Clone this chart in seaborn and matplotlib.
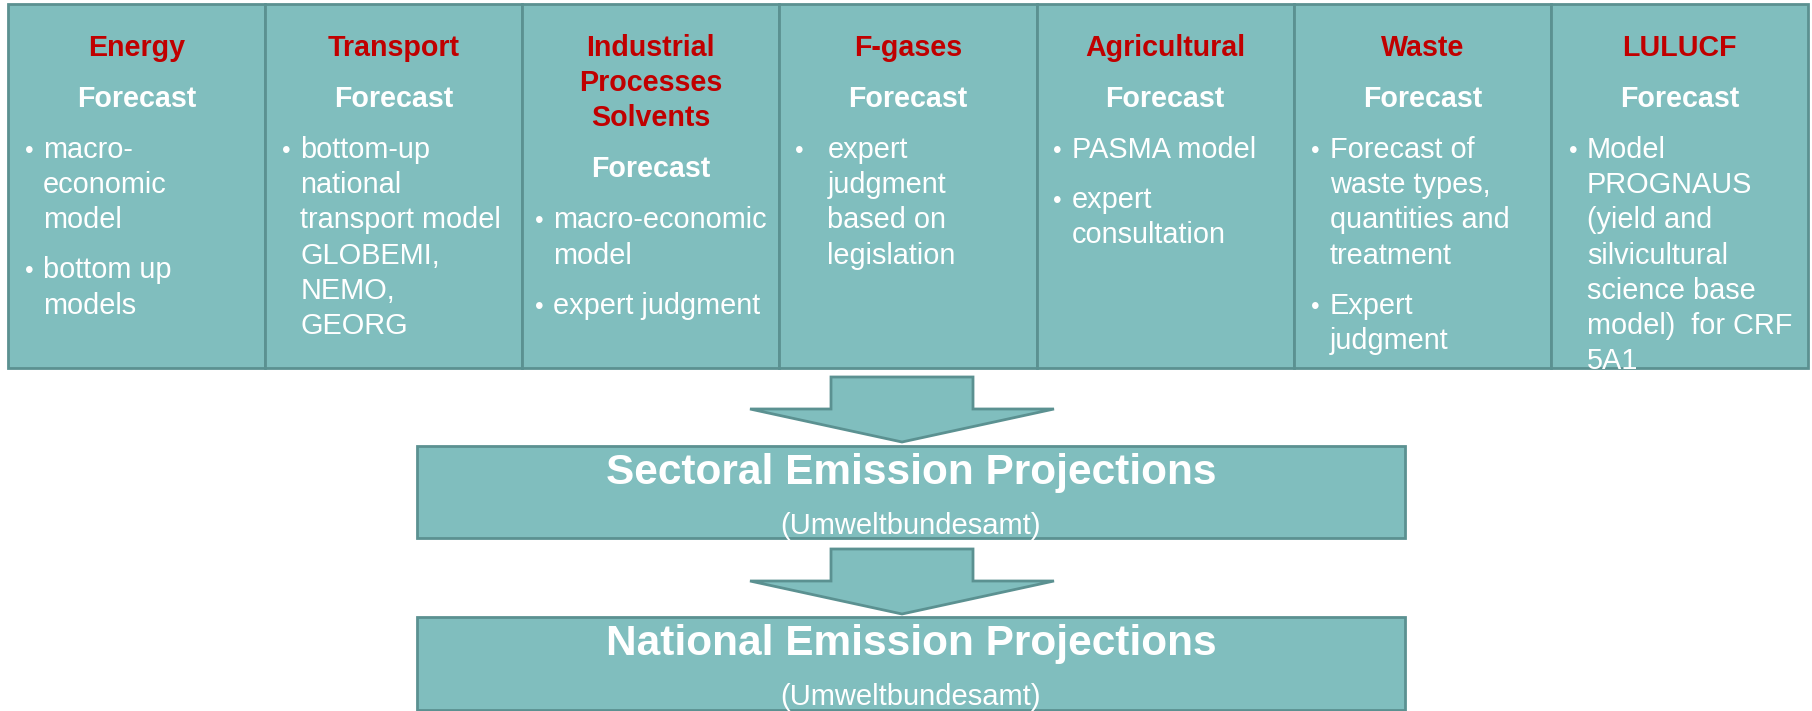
import matplotlib
matplotlib.use("Agg")
import matplotlib.pyplot as plt
import seaborn as sns
from matplotlib.patches import Rectangle, Polygon

# ---------------- data (texts) ----------------
sector_titles = [
    ["Energy"],
    ["Transport"],
    ["Industrial", "Processes", "Solvents"],
    ["F-gases"],
    ["Agricultural"],
    ["Waste"],
    ["LULUCF"],
]
forecast_label = "Forecast"
sector_bullets = [
    [["macro-", "economic", "model"], ["bottom up", "models"]],
    [["bottom-up", "national", "transport model", "GLOBEMI,", "NEMO,", "GEORG"]],
    [["macro-economic", "model"], ["expert judgment"]],
    [["expert", "judgment", "based on", "legislation"]],
    [["PASMA model"], ["expert", "consultation"]],
    [["Forecast of", "waste types,", "quantities and", "treatment"], ["Expert", "judgment"]],
    [["Model", "PROGNAUS", "(yield and", "silvicultural", "science base",
      "model)  for CRF", "5A1"]],
]
stage_titles = ["Sectoral Emission Projections", "National Emission Projections"]
stage_subtitles = ["(Umweltbundesamt)", "(Umweltbundesamt)"]

# ---------------- style ----------------
FILL = "#80bebe"
EDGE = "#5b9191"
RED = "#c00000"
WHITE = "#ffffff"

sns.set_theme(style="white")
plt.rcParams["font.family"] = ["Liberation Sans", "DejaVu Sans"]

W, H = 1812, 711
fig = plt.figure(figsize=(W / 100, H / 100), dpi=100)
ax = fig.add_axes([0, 0, 1, 1])
ax.set_xlim(0, W)
ax.set_ylim(H, 0)
ax.axis("off")

# layout
row_left, row_right = 8, 1808
row_top, row_bottom = 3.5, 368
ncol = len(sector_titles)
col_w = (row_right - row_left) / ncol
title_base = 56
line_sp = 35.2
sect_gap = 51
bullet_gap = 50
bullet_dx = [17, 17, 13, 16, 16, 17, 18]
text_dx = [35, 35, 31, 48, 35, 36, 36]

FS_HEAD = 20.6
FS_BODY = 20.8

for i in range(ncol):
    x0 = row_left + i * col_w
    ax.add_patch(Rectangle((x0, row_top), col_w, row_bottom - row_top,
                           facecolor=FILL, edgecolor=EDGE, linewidth=2.0, zorder=1))
    cx = x0 + col_w / 2
    y = title_base
    for j, t in enumerate(sector_titles[i]):
        if j > 0:
            y += line_sp
        ax.text(cx, y, t, color=RED, fontsize=FS_HEAD, fontweight="bold",
                ha="center", va="baseline", zorder=5)
    y += sect_gap
    ax.text(cx, y, forecast_label, color=WHITE, fontsize=FS_HEAD, fontweight="bold",
            ha="center", va="baseline", zorder=5)
    y += sect_gap
    for b, lines in enumerate(sector_bullets[i]):
        if b > 0:
            y += bullet_gap
        ax.text(x0 + bullet_dx[i], y, "\u2022", color=WHITE, fontsize=FS_BODY * 0.85,
                ha="left", va="baseline", zorder=5)
        for k, ln in enumerate(lines):
            if k > 0:
                y += line_sp
            ax.text(x0 + text_dx[i], y, ln, color=WHITE, fontsize=FS_BODY,
                    ha="left", va="baseline", zorder=5)

# arrows and stage boxes
box_left, box_right = 417, 1405
stage_tops = [446, 617]
stage_bottoms = [538, 710]
arrow_tops = [377, 549]
shaft_l, shaft_r = 831, 973
head_l, head_r = 750, 1054
tip_x = 902
head_depth = 32
head_len = 33

for s in range(2):
    at = arrow_tops[s]
    hb = at + head_depth
    tip = hb + head_len
    pts = [(shaft_l, at), (shaft_r, at), (shaft_r, hb), (head_r, hb),
           (tip_x, tip), (head_l, hb), (shaft_l, hb)]
    ax.add_patch(Polygon(pts, closed=True, facecolor=FILL, edgecolor=EDGE,
                         linewidth=2.0, zorder=2))
    top, bot = stage_tops[s], stage_bottoms[s]
    ax.add_patch(Rectangle((box_left, top), box_right - box_left, bot - top,
                           facecolor=FILL, edgecolor=EDGE, linewidth=2.0, zorder=1))
    cx = (box_left + box_right) / 2
    ax.text(cx, top + 38, stage_titles[s], color=WHITE, fontsize=30.5,
            fontweight="bold", ha="center", va="baseline", zorder=5)
    ax.text(cx, top + 88, stage_subtitles[s], color=WHITE, fontsize=21,
            ha="center", va="baseline", zorder=5)

fig.savefig("out.png", dpi=100, facecolor="white")
